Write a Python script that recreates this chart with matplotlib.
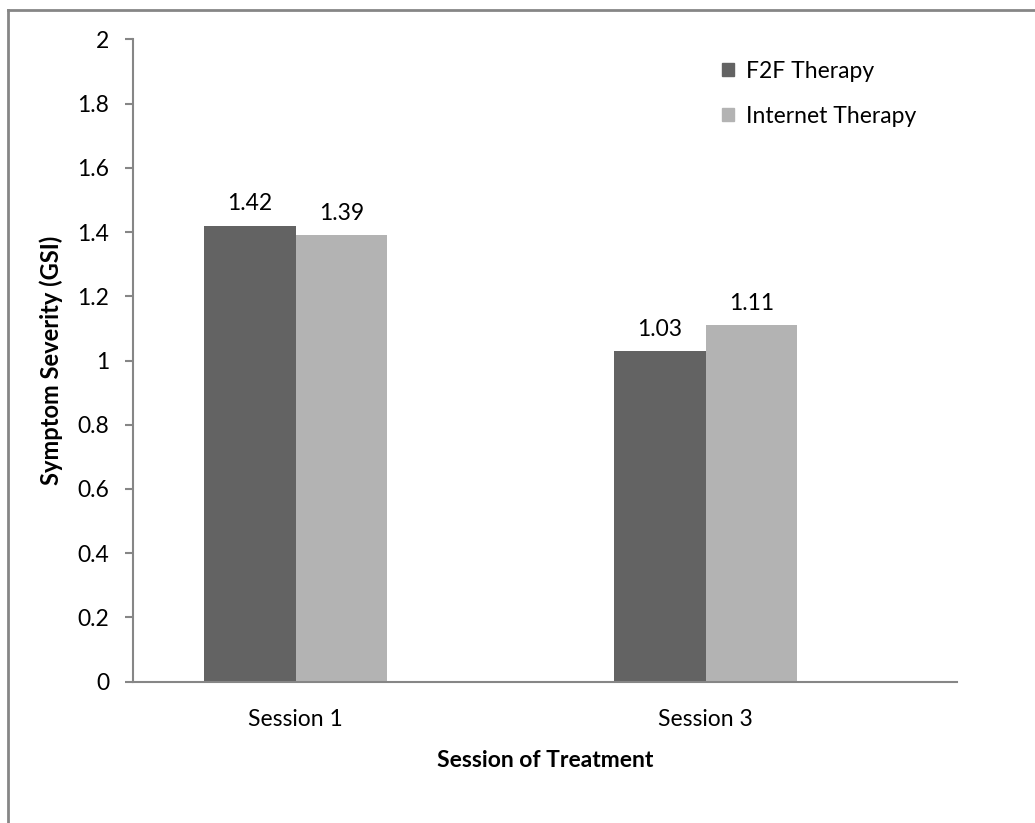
import matplotlib
matplotlib.use("Agg")
import matplotlib.pyplot as plt
from matplotlib.lines import Line2D
from matplotlib.patches import Patch
import numpy as np

# données
sessions = ["Session 1", "Session 3"]
f2f = [1.42, 1.03]
internet = [1.39, 1.11]
series_names = ["F2F Therapy", "Internet Therapy"]
colors = ["#636363", "#b3b3b3"]
yticks = [0, 0.2, 0.4, 0.6, 0.8, 1, 1.2, 1.4, 1.6, 1.8, 2]
ytick_labels = ["0", "0.2", "0.4", "0.6", "0.8", "1", "1.2", "1.4", "1.6", "1.8", "2"]

plt.rcParams['font.family'] = ['Lato', 'DejaVu Sans']
fs = 16.5
W, H = 1035, 823
fig = plt.figure(figsize=(W / 100, H / 100), dpi=100)
ax = fig.add_axes([133 / W, 1 - 681.7 / H, (957 - 133) / W, (681.7 - 39.3) / H])

axis_col = "#868686"
x = np.arange(len(sessions))
bw = 0.223
b1 = ax.bar(x - bw / 2, f2f, bw, color=colors[0], label=series_names[0])
b2 = ax.bar(x + bw / 2, internet, bw, color=colors[1], label=series_names[1])
for bars, vals in ((b1, f2f), (b2, internet)):
    for r, v in zip(bars, vals):
        ax.annotate(f"{v:.2f}", (r.get_x() + r.get_width() / 2, v),
                    xytext=(0, 8), textcoords="offset points",
                    ha="center", va="bottom", fontsize=fs)

ax.set_xlim(-0.396, 1.612)
ax.set_ylim(0, 2)
ax.set_yticks(yticks)
ax.set_yticklabels(ytick_labels)
ax.set_xticks(x)
ax.set_xticklabels(sessions)

for s in ["top", "right"]:
    ax.spines[s].set_visible(False)
for s in ["left", "bottom"]:
    ax.spines[s].set_color(axis_col)
    ax.spines[s].set_linewidth(1.5)
ax.tick_params(axis="y", length=6, width=1.5, color=axis_col, pad=11, labelsize=fs)
ax.tick_params(axis="x", length=0, pad=20, labelsize=fs)

ax.set_ylabel("Symptom Severity (GSI)", fontsize=fs + 0.5, fontweight="bold", labelpad=10)
ax.set_xlabel("Session of Treatment", fontsize=fs, fontweight="bold", labelpad=14)

handles = [Patch(color=c) for c in colors]
fig.legend(handles, series_names, loc="upper left",
           bbox_to_anchor=(701 / W, 1 - 40 / H), frameon=False, fontsize=fs,
           handlelength=0.55, handleheight=0.55, handletextpad=0.5, labelspacing=1.05)

# cadre du graphique
fig.add_artist(Line2D([8 / W, 8 / W], [0, 1 - 9.5 / H], transform=fig.transFigure,
                      color=axis_col, lw=2))
fig.add_artist(Line2D([8 / W, 1], [1 - 9.5 / H, 1 - 9.5 / H], transform=fig.transFigure,
                      color=axis_col, lw=2))

fig.savefig("out.png", dpi=100)
